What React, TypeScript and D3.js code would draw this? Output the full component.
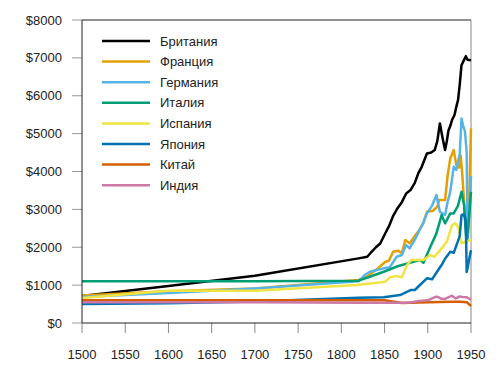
import React from "react";
import * as d3 from "d3";

const seriesNames = ["Британия", "Франция", "Германия", "Италия", "Испания", "Япония", "Китай", "Индия"];
const seriesColors = ["#000000", "#E69F00", "#56B4E9", "#009E73", "#F0E442", "#0072B2", "#D55E00", "#CC79A7"];

const britainYears = [1500, 1600, 1700, 1820, 1830, 1835, 1840, 1845, 1850, 1855, 1860, 1865, 1870, 1875, 1880, 1885, 1889, 1893, 1899, 1904, 1908, 1911, 1914, 1917, 1920, 1922, 1924, 1926, 1928, 1931, 1933, 1935, 1937, 1939, 1941, 1944, 1946, 1950];
const britainValues = [714, 974, 1250, 1706, 1749, 1880, 2000, 2100, 2330, 2550, 2830, 3030, 3190, 3420, 3509, 3700, 3950, 4124, 4477, 4500, 4565, 4800, 5270, 4900, 4565, 4800, 5090, 5200, 5356, 5500, 5707, 5883, 6300, 6807, 6900, 7045, 6950, 6939];

const franceYears = [1500, 1600, 1700, 1820, 1830, 1841, 1851, 1855, 1860, 1866, 1870, 1874, 1879, 1885, 1890, 1895, 1899, 1906, 1911, 1913, 1916, 1920, 1923, 1926, 1930, 1933, 1936, 1938, 1940, 1942, 1944, 1946, 1948, 1949, 1950];
const franceValues = [727, 841, 910, 1135, 1230, 1417, 1617, 1644, 1881, 1908, 1839, 2190, 2103, 2300, 2450, 2650, 2937, 2963, 3069, 3245, 3245, 3245, 3900, 4346, 4565, 4169, 4100, 4424, 3900, 3200, 2500, 2600, 3300, 4300, 5137];

const germanyYears = [1500, 1600, 1700, 1820, 1827, 1833, 1849, 1856, 1864, 1870, 1875, 1879, 1885, 1890, 1895, 1899, 1905, 1910, 1914, 1920, 1923, 1926, 1930, 1933, 1937, 1939, 1941, 1943, 1945, 1946, 1947, 1948, 1949, 1950];
const germanyValues = [688, 791, 910, 1100, 1266, 1354, 1443, 1470, 1749, 1794, 2058, 1971, 2200, 2430, 2650, 2894, 3100, 3377, 2937, 2850, 3200, 3464, 4124, 4037, 4477, 5400, 5200, 5059, 4514, 2217, 2436, 2834, 3282, 3881];

const italyYears = [1500, 1600, 1700, 1820, 1833, 1849, 1866, 1877, 1891, 1895, 1903, 1910, 1916, 1920, 1926, 1930, 1935, 1939, 1942, 1944, 1945, 1947, 1950];
const italyValues = [1100, 1100, 1100, 1117, 1222, 1354, 1504, 1575, 1662, 1591, 2013, 2366, 2850, 2630, 2894, 2894, 3100, 3464, 3100, 2400, 2145, 2600, 3464];

const spainYears = [1500, 1600, 1700, 1818, 1851, 1856, 1864, 1870, 1876, 1881, 1889, 1895, 1903, 1908, 1916, 1922, 1928, 1932, 1935, 1939, 1943, 1950];
const spainValues = [661, 853, 853, 1002, 1090, 1205, 1240, 1205, 1530, 1662, 1662, 1662, 1794, 1749, 1971, 2145, 2586, 2630, 2541, 2103, 2145, 2190];

const japanYears = [1500, 1600, 1700, 1820, 1849, 1868, 1880, 1885, 1891, 1899, 1905, 1912, 1916, 1920, 1926, 1930, 1934, 1937, 1939, 1941, 1943, 1944, 1945, 1946, 1948, 1950];
const japanValues = [500, 520, 570, 669, 678, 739, 871, 871, 1003, 1179, 1153, 1398, 1530, 1696, 1881, 1855, 2103, 2300, 2850, 2870, 2800, 2659, 1346, 1444, 1700, 1921];

const chinaYears = [1500, 1600, 1700, 1820, 1850, 1870, 1890, 1913, 1929, 1938, 1945, 1950];
const chinaValues = [600, 600, 600, 600, 600, 530, 540, 552, 562, 562, 550, 448];

const indiaYears = [1500, 1600, 1700, 1820, 1870, 1880, 1890, 1900, 1905, 1910, 1913, 1916, 1920, 1925, 1928, 1932, 1937, 1940, 1945, 1950];
const indiaValues = [550, 550, 550, 533, 533, 540, 584, 599, 650, 697, 673, 640, 635, 690, 720, 650, 700, 686, 680, 619];

const allYears = [britainYears, franceYears, germanyYears, italyYears, spainYears, japanYears, chinaYears, indiaYears];
const allValues = [britainValues, franceValues, germanyValues, italyValues, spainValues, japanValues, chinaValues, indiaValues];

const xTicks = [1500, 1550, 1600, 1650, 1700, 1750, 1800, 1850, 1900, 1950];
const yTicks = [0, 1000, 2000, 3000, 4000, 5000, 6000, 7000, 8000];

export default function App() {
  const W = 500, H = 375;
  const left = 82, right = 471, top = 20, bottom = 323;
  const x = d3.scaleLinear().domain([1500, 1950]).range([left, right]);
  const y = d3.scaleLinear().domain([0, 8000]).range([bottom, top]);
  const line = d3.line<[number, number]>().x(d => x(d[0])).y(d => y(d[1]));
  const font = "'Liberation Sans', Arial, sans-serif";

  return (
    <svg width={W} height={H} style={{ position: "absolute", left: 0, top: 0, background: "#fff" }} fontFamily={font}>
      {/* frame */}
      <line x1={left} x2={right} y1={top} y2={top} stroke="#222" strokeWidth={1} />
      <line x1={right} x2={right} y1={top} y2={bottom} stroke="#888" strokeWidth={1} />
      {/* y ticks */}
      {yTicks.map(t => (
        <g key={"y" + t}>
          <line x1={left - 10} x2={left} y1={y(t)} y2={y(t)} stroke="#999" strokeWidth={1} />
          <text x={62} y={y(t)} dy="0.35em" textAnchor="end" fontSize={13} fill="#222">{"$" + t}</text>
        </g>
      ))}
      {/* x ticks */}
      {xTicks.map(t => (
        <g key={"x" + t}>
          <line x1={x(t)} x2={x(t)} y1={bottom} y2={bottom + 10} stroke="#888" strokeWidth={1} />
          <text x={x(t)} y={359} textAnchor="middle" fontSize={13} fill="#222">{t}</text>
        </g>
      ))}
      {/* lines */}
      {allYears.map((yrs, i) => (
        <path key={"s" + i}
          d={line(yrs.map((yr, j) => [yr, allValues[i][j]] as [number, number])) || ""}
          fill="none" stroke={seriesColors[i]} strokeWidth={2.5} strokeLinejoin="round" />
      ))}
      {/* axes lines */}
      <line x1={left} x2={left} y1={top} y2={bottom} stroke="#222" strokeWidth={1} />
      <line x1={left} x2={right} y1={bottom} y2={bottom} stroke="#222" strokeWidth={1} />
      {/* legend */}
      {seriesNames.map((n, i) => (
        <g key={"l" + i} transform={`translate(0, ${41 + i * 20.6})`}>
          <line x1={102} x2={150} y1={0} y2={0} stroke={seriesColors[i]} strokeWidth={2.5} />
          <text x={160} y={0} dy="0.35em" fontSize={13} fill="#222">{n}</text>
        </g>
      ))}
    </svg>
  );
}
